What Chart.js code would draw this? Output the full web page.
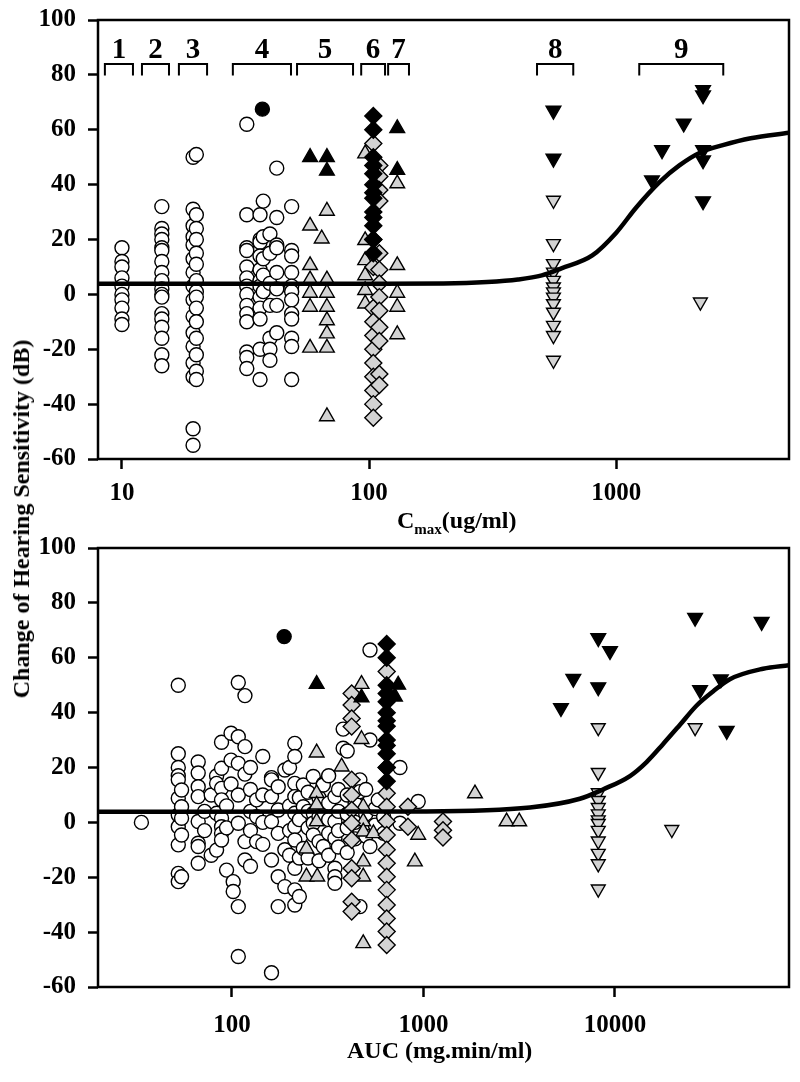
<!DOCTYPE html>
<html>
<head>
<meta charset="utf-8">
<script src="https://cdn.jsdelivr.net/npm/chart.js@4.4.1/dist/chart.umd.min.js"></script>
<style>
    body { margin: 0; background: #fff; }
    #wrap { position: relative; width: 800px; height: 1082px; font-family: "Liberation Serif", "Times New Roman", serif; font-weight: bold; color: #000; }
    canvas { position: absolute; left: 0; }
    #c1 { top: 0; }
    #c2 { top: 520px; }
    .lbl { position: absolute; font-size: 24px; line-height: 24px; white-space: nowrap; }
    .lbl sub { font-size: 15px; line-height: 0; }
    #ytitle { left: 21px; top: 519px; transform: translate(-50%, -50%) rotate(-90deg); }
    #xtitle1 { left: 397px; top: 508px; }
    #xtitle2 { left: 347px; top: 1038px; }
</style>
</head>
<body>
<div id="wrap">
    <canvas id="c1" width="800" height="541"></canvas>
    <canvas id="c2" width="800" height="562"></canvas>
    <div class="lbl" id="ytitle">Change of Hearing Sensitivity (dB)</div>
    <div class="lbl" id="xtitle1">C<sub>max</sub>(ug/ml)</div>
    <div class="lbl" id="xtitle2">AUC (mg.min/ml)</div>
</div>
<script>
// ---- data ----

// group brackets along the top of the Cmax panel
const groupNames = ['1', '2', '3', '4', '5', '6', '7', '8', '9'];
const bracketLo = [8.53, 12.05, 17.0, 28.1, 51.1, 92.9, 119.4, 478, 1239];
const bracketHi = [11.08, 15.5, 22.1, 48.3, 86.1, 116, 145, 670, 2710];
const bracketTop = 84;
const bracketFoot = 79.8;

// fitted curves
const cmaxFitX = [8, 100, 200, 300, 400, 500, 600, 800, 1000, 1200, 1500, 1800, 2200, 2700, 3500, 5000];
const cmaxFitY = [3.9, 3.9, 4.0, 4.5, 5.4, 6.9, 9.5, 14.2, 22.5, 31.5, 41, 47, 51.8, 54.4, 56.9, 58.9];
const aucFitX = [20, 1000, 3600, 6560, 8650, 11970, 14620, 17800, 21800, 26700, 32500, 39800, 59300, 81000];
const aucFitY = [3.9, 4.0, 5.4, 8.6, 12, 16.9, 22, 28.5, 35.5, 42.6, 47.7, 52.2, 56, 57.3];

// Cmax panel: columns of points [x, [y...]]
const cmaxOpenCircle = [
    [10, [17, 12, 10, 6, 3, 0, -2, -5, -9, -11]],
    [14.5, [32, 24, 22, 20, 17, 16, 12, 8, 5, 2, 0, -1, -7, -9, -12, -16, -22, -26]],
    [19.4, [50, 31, 25, 21, 18, 13, 8, 3, -2, -8, -14, -19, -25, -30, -49, -55]],
    [20, [51, 29, 24, 20, 15, 11, 5, 1, -1, -5, -10, -16, -22, -28, -31]],
    [32, [62, 29, 17, 16, 10, 6, 3, 0, -4, -7, -10, -21, -23, -27]],
    [36.2, [29, 20, 19, 14, 9, 5, 3, -1, -5, -9, -20, -31]],
    [37.3, [34, 21, 13, 7, 1]],
    [39.7, [22, 15, 4, -4, -16, -20, -24]],
    [42.3, [46, 28, 18, 17, 8, 2, -4, -14]],
    [48.6, [32, 16, 14, 8, 3, 1, -2, -7, -9, -16, -19, -31]]
];
const cmaxBlackCircle = [[37, [67.5]]];
const cmaxBlackTri = [[57.7, [50]], [67.5, [50, 45]], [130, [60.5, 45.3]]];
const cmaxGrayTri = [
    [57.7, [25, 10.6, 5.4, 0.5, -4.6, -19.5]],
    [64.3, [20.3]],
    [67.5, [30.4, 5.4, 0.5, -4.6, -9.5, -14.3, -19.5, -44.5]],
    [96.4, [51.3, 19.7, 12.4, 6.9, 1.5, -3.4]],
    [130, [40.4, 10.6, 0.5, -4.6, -14.6]]
];
const cmaxBlackDiamond = [[104, [65, 60, 50, 47, 44, 40, 37, 35, 30, 28, 25, 20, 15]]];
const cmaxGrayDiamond = [
    [104, [55, 20, 10, -5, -10, -15, -20, -25, -30, -35, -40, -45]],
    [110, [47, 43, 38, 34, 15, 9, 4, -1, -6, -12, -17, -29, -33]]
];
const cmaxBlackDown = [[557, [67, 49.5]], [1395, [41.6]], [1532, [52.6]], [1875, [62.3]], [2245, [74.5, 72.6, 52.6, 48.9, 34]]];
const cmaxGrayDown = [[557, [34.3, 18.5, 11.2, 8.1, 5.1, 2.7, 0.9, -1, -3.4, -6.5, -11.3, -15, -24]], [2190, [-2.8]]];

// AUC panel
const aucOpenCircle = [
    [33.7, [0]],
    [52.5, [50, 25, 20, 17, 15.5, 8.8, 2.7, -1.6, -8.2, -18.6, -21.6]],
    [54.6, [11.8, 5.7, 1.5, -4.6, -19.8]],
    [66.7, [22, 18, 13, 9.4, 0.3, -7.6, -8.8, -14.9]],
    [72, [4, -3]],
    [78, [10, -12]],
    [83.2, [16.9, 14.2, 3.3, -10.1]],
    [88.3, [29.2, 19.7, 12.4, 8.2, 1.5, -1.6, -4, -6.4]],
    [93.8, [-17.4, 6, -2]],
    [99, [32.5, 22.7, 14]],
    [101.6, [-21.6, -25.2]],
    [108, [51, 31.2, 21.5, 10, -0.3, -30.7, -48.9]],
    [117, [46.2, 27.6, 17.6, -7, -13.7]],
    [125, [20, 12, 4, -3, -16]],
    [134.6, [8.2, 2.1, -7]],
    [145, [24, 10, 0, -8]],
    [161, [16.3, 15.5, 9.4, 0.3, -13.7, -54.8]],
    [174.5, [13, 4.5, -4, -19.8, -30.7]],
    [189, [19.1, -10, -23.4]],
    [200, [20, 6, -3, -12]],
    [213, [28.8, 24, 14.2, 9.4, 3.3, -1.6, -6.4, -16.7, -24.6, -30.1]],
    [225, [9, 1, -13, -27]],
    [236, [13.6, 5.7, -9.5]],
    [250, [11, 4, -2, -13]],
    [266, [16.7, 3.3, -0.3, -4.6]],
    [285, [9, 2, -7, -14]],
    [300, [14, 13.6, -8.8]],
    [320, [17, 7, 1, -4, -12]],
    [345, [9.4, 0.3, -5.8, -16.7, -19.8, -22.2]],
    [360, [12, 4, -3, -9]],
    [381, [34, 27]],
    [400, [26, 10, 3, -2, -11]],
    [440, [7, 0, -6]],
    [466, [15.5, 11.2, -30.7]],
    [500, [12, 3, -5]],
    [526, [62.8, 30, -8.8]],
    [560, [5, -1]],
    [581, [8.2]],
    [620, [2, -4]],
    [754, [20, -0.3]],
    [939, [7.6]]
];
const aucBlackCircle = [[187.5, [67.7]]];
const aucBlackTri = [[277, [50.4]], [475, [45.5]], [710, [45.8]], [738, [50.1]]];
const aucGrayTri = [
    [245, [-9.6, -19.8]],
    [277, [25.4, 10.6, 6.4, 0.3]],
    [279, [-19.8]],
    [374, [20.3]],
    [475, [50.4, 30.3]],
    [485, [5.7, 0.3, -3.4, -14.3, -19.8, -44.1]],
    [548, [-4]],
    [902, [-14.3]],
    [939, [-4.6]],
    [1858, [10.5]],
    [2717, [0.3]],
    [3163, [0.3]]
];
const aucBlackDiamond = [[643, [65, 60, 50, 47, 44, 40, 37, 35, 30, 28, 25, 20, 15]]];
const aucGrayDiamond = [
    [422, [47, 42.8, 37.9, 34.9, 15.5, 10, 4.5, -0.3, -6.4, -16.7, -20.4, -28.9, -32.5]],
    [643, [55, 20, 10.6, 5.7, 0.3, -4.6, -10, -14.9, -19.8, -24.6, -30.1, -35, -39.8, -44.7]],
    [830, [5.7, -1.6]],
    [1265, [0.3, -2.9, -5.5]]
];
const aucBlackDown = [[5224, [41.7]], [6060, [52.4]], [8180, [67.2, 49.3]], [9420, [62.5]], [26200, [74.6]], [27800, [48.3]], [35700, [52.2]], [38300, [33.4]], [58300, [73.1]]];
const aucGrayDown = [[8180, [34.5, 18.2, 10.8, 8, 5.4, 3.1, 0.9, -0.4, -2.9, -6.8, -11.3, -15.1, -24.3]], [19800, [-2.6]], [26200, [34.5]]];

// ---- styling / build ----
const GRAY = '#d3d3d3';
const FONT = 'Liberation Serif';

const cols = (list) => list.flatMap(([x, ys]) => ys.map(y => ({ x, y })));
const zip = (xs, ys) => xs.map((x, i) => ({ x, y: ys[i] }));

function marks(list, shape, fill, radius, rotation) {
    return {
        data: cols(list),
        pointStyle: shape,
        pointRadius: radius,
        pointRotation: rotation || 0,
        pointBackgroundColor: fill,
        pointBorderColor: '#000',
        pointBorderWidth: 1.4,
        backgroundColor: fill,
        borderColor: '#000'
    };
}

function fitLine(xs, ys) {
    return {
        type: 'line', data: zip(xs, ys), showLine: true, borderColor: '#000', borderWidth: 4.5,
        pointRadius: 0, cubicInterpolationMode: 'monotone', fill: false
    };
}

function bracketSets() {
    return bracketLo.map((lo, i) => ({
        type: 'line', showLine: true, borderColor: '#000', borderWidth: 2, pointRadius: 0, tension: 0, fill: false,
        data: [{ x: lo, y: bracketFoot }, { x: lo, y: bracketTop }, { x: bracketHi[i], y: bracketTop }, { x: bracketHi[i], y: bracketFoot }]
    }));
}

const boxPlugin = {
    id: 'box',
    afterDatasetsDraw(chart) {
        const { ctx, chartArea: a } = chart;
        ctx.save();
        ctx.strokeStyle = '#000';
        ctx.lineWidth = 2.5;
        ctx.strokeRect(a.left, a.top, a.right - a.left, a.bottom - a.top);
        ctx.restore();
    }
};

const groupLabelPlugin = {
    id: 'groupLabels',
    afterDatasetsDraw(chart) {
        const { ctx, scales: { x, y } } = chart;
        ctx.save();
        ctx.font = 'bold 29px "' + FONT + '"';
        ctx.textAlign = 'center';
        ctx.textBaseline = 'alphabetic';
        ctx.fillStyle = '#000';
        groupNames.forEach((n, i) => {
            const px = (x.getPixelForValue(bracketLo[i]) + x.getPixelForValue(bracketHi[i])) / 2;
            ctx.fillText(n, px, y.getPixelForValue(bracketTop) - 6);
        });
        ctx.restore();
    }
};

function makeChart(id, datasets, xMin, xMax, xTicks, padTop, xHeight, xPad, plugins) {
    const tickFont = { family: FONT, size: 25, weight: 'bold' };
    const grid = { display: true, drawOnChartArea: false, drawTicks: true, tickLength: 10, tickColor: '#000', tickWidth: 2.5 };
    return new Chart(document.getElementById(id), {
        type: 'scatter',
        data: { datasets },
        options: {
            responsive: false,
            animation: false,
            layout: { padding: { top: padTop, right: 11, left: 0, bottom: 0 } },
            plugins: { legend: { display: false }, tooltip: { enabled: false } },
            scales: {
                x: {
                    type: 'logarithmic', min: xMin, max: xMax,
                    afterBuildTicks: s => { s.ticks = xTicks.map(v => ({ value: v })); },
                    afterFit: s => { s.height = xHeight; s.paddingLeft = 0; s.paddingRight = 0; },
                    ticks: { font: tickFont, color: '#000', padding: xPad, maxRotation: 0, autoSkip: false, callback: v => String(v) },
                    grid, border: { display: false }
                },
                y: {
                    min: -60, max: 100,
                    afterFit: s => { s.width = 98; s.paddingTop = 0; s.paddingBottom = 0; },
                    ticks: { stepSize: 20, font: tickFont, color: '#000', padding: 12 },
                    grid, border: { display: false }
                }
            }
        },
        plugins
    });
}

const cmaxSets = [
    fitLine(cmaxFitX, cmaxFitY),
    ...bracketSets(),
    marks(cmaxBlackDown, 'triangle', '#000', 8.5, 180),
    marks(cmaxGrayDown, 'triangle', GRAY, 8, 180),
    marks(cmaxBlackTri, 'triangle', '#000', 8.5),
    marks(cmaxBlackDiamond, 'rectRot', '#000', 8.5),
    marks(cmaxGrayDiamond, 'rectRot', GRAY, 8.5),
    marks(cmaxGrayTri, 'triangle', GRAY, 8.5),
    marks(cmaxBlackCircle, 'circle', '#000', 7),
    marks(cmaxOpenCircle, 'circle', '#fff', 7)
];

const aucSets = [
    fitLine(aucFitX, aucFitY),
    marks(aucBlackDown, 'triangle', '#000', 8.5, 180),
    marks(aucGrayDown, 'triangle', GRAY, 8, 180),
    marks(aucBlackTri, 'triangle', '#000', 8.5),
    marks(aucBlackDiamond, 'rectRot', '#000', 8.5),
    marks(aucGrayDiamond, 'rectRot', GRAY, 8.5),
    marks(aucGrayTri, 'triangle', GRAY, 8.5),
    marks(aucBlackCircle, 'circle', '#000', 7),
    marks(aucOpenCircle, 'circle', '#fff', 7)
];

// top panel: plot box 98..789 x 20..459; bottom panel canvas starts at 520, box 548..987
makeChart('c1', cmaxSets, 8, 5000, [10, 100, 1000], 20, 82, 10, [boxPlugin, groupLabelPlugin]);
makeChart('c2', aucSets, 20, 81000, [100, 1000, 10000], 28, 95, 14, [boxPlugin]);
</script>
</body>
</html>
